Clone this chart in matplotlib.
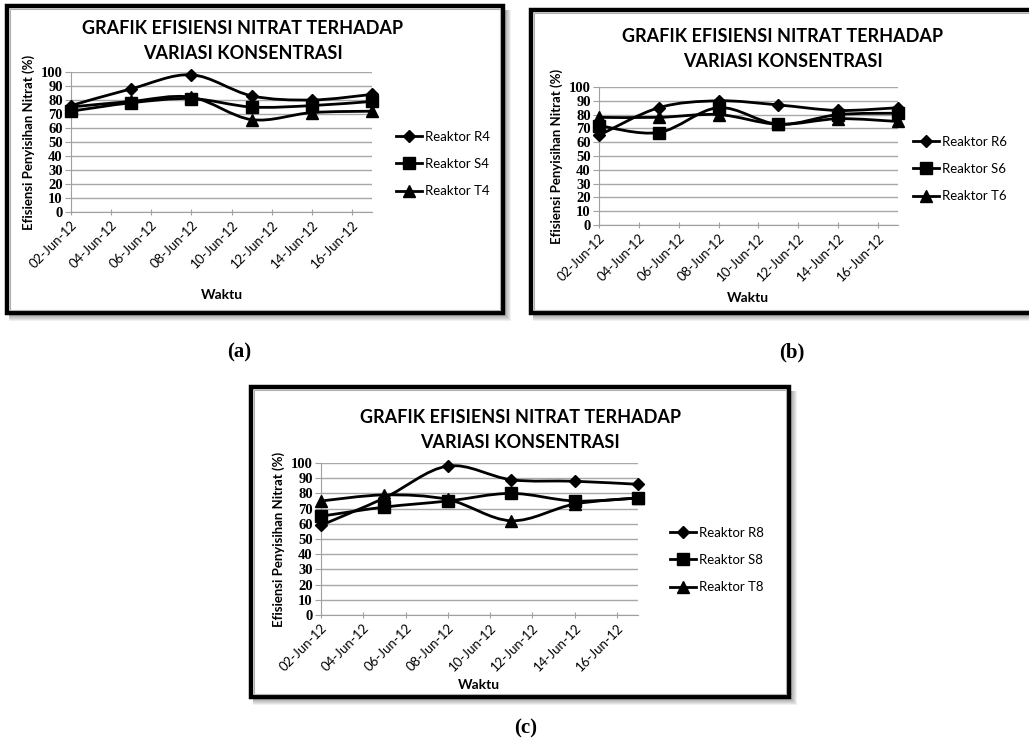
import numpy as np
import matplotlib
matplotlib.use("Agg")
import matplotlib.pyplot as plt
import matplotlib.dates as mdates
from matplotlib.patches import Rectangle, PathPatch
from matplotlib.path import Path
from matplotlib.lines import Line2D

# ---------------- data ----------------
dates = ['2012-06-02', '2012-06-05', '2012-06-08', '2012-06-11', '2012-06-14', '2012-06-17']
tick_dates = ['2012-06-02', '2012-06-04', '2012-06-06', '2012-06-08',
              '2012-06-10', '2012-06-12', '2012-06-14', '2012-06-16']

r4 = [76, 88, 98, 83, 80, 84]
s4 = [72, 78, 81, 75, 76, 79]
t4 = [75, 79, 82, 66, 71, 72]

r6 = [65, 85, 90, 87, 83, 85]
s6 = [72, 67, 85, 73, 80, 81]
t6 = [78, 78, 80, 73, 77, 75]

r8 = [59, 77, 98, 89, 88, 86]
s8 = [65, 71, 75, 80, 75, 77]
t8 = [75, 79, 76, 62, 73, 77]

title = "GRAFIK EFISIENSI NITRAT TERHADAP\nVARIASI KONSENTRASI"
ylabel = "Efisiensi Penyisihan Nitrat (%)"
xlabel = "Waktu"

W, H = 1029, 746
fig = plt.figure(figsize=(W / 100, H / 100), dpi=100)
fig.patch.set_facecolor("white")

SANS = ["Lato", "DejaVu Sans"]
SERIF = ["Liberation Serif", "DejaVu Serif"]

def fx(px):
    return px / W

def fy(py):
    return 1 - py / H

def box(x0, y0, x1, y1):
    # soft shadow
    for i in range(8, 0, -1):
        fig.add_artist(Rectangle((fx(x0 + 2), fy(y1 + i)), fx(x1 - x0 + i - 2), (y1 - y0 + i - 4) / H,
                                 transform=fig.transFigure, facecolor="black", alpha=0.06,
                                 edgecolor="none", zorder=0))
    fig.add_artist(Rectangle((fx(x0), fy(y1)), fx(x1 - x0), (y1 - y0) / H,
                             transform=fig.transFigure, facecolor="white",
                             edgecolor="black", linewidth=3.2, zorder=1))
    fig.add_artist(Rectangle((fx(x0 + 3), fy(y1 - 3)), fx(x1 - x0 - 6), (y1 - y0 - 6) / H,
                             transform=fig.transFigure, facecolor="none",
                             edgecolor="#b0b0b0", linewidth=0.8, zorder=1))

def smooth_path(xs, ys):
    xs = np.asarray(xs, float)
    ys = np.asarray(ys, float)
    verts = [(xs[0], ys[0])]
    codes = [Path.MOVETO]
    n = len(xs)
    for i in range(n - 1):
        p0 = np.array([xs[max(i - 1, 0)], ys[max(i - 1, 0)]])
        p1 = np.array([xs[i], ys[i]])
        p2 = np.array([xs[i + 1], ys[i + 1]])
        p3 = np.array([xs[min(i + 2, n - 1)], ys[min(i + 2, n - 1)]])
        c1 = p1 + (p2 - p0) / 6.0
        c2 = p2 - (p3 - p1) / 6.0
        verts += [tuple(c1), tuple(c2), tuple(p2)]
        codes += [Path.CURVE4] * 3
    return Path(verts, codes)

def panel(axrect, series, labels, title_xy, legend_xy, xlabel_xy):
    ax = fig.add_axes(axrect)
    ax.set_zorder(3)
    ax.patch.set_alpha(0)
    x = mdates.date2num(np.array(dates, dtype="datetime64[D]"))
    markers = ["D", "s", "^"]
    msizes = [6.5, 9, 8.5]
    handles = []
    for ys, m, ms, lab in zip(series, markers, msizes, labels):
        pp = PathPatch(smooth_path(x, ys), facecolor="none", edgecolor="black",
                       linewidth=2.0, transform=ax.transData, zorder=3)
        ax.add_patch(pp)
        ax.plot(x, ys, linestyle="none", marker=m, markersize=ms, color="black", zorder=4,
                clip_on=False)
        handles.append(Line2D([], [], color="black", linewidth=2.0, marker=m,
                              markersize=ms - 0.5, label=lab))
    ax.set_ylim(0, 100)
    ax.set_yticks(np.arange(0, 101, 10))
    ax.set_xlim(x[0], x[-1])
    ax.set_xticks(mdates.date2num(np.array(tick_dates, dtype="datetime64[D]")))
    ax.xaxis.set_major_formatter(mdates.DateFormatter("%d-%b-%y"))
    ax.grid(axis="y", color="#a8a8a8", linewidth=1.0)
    ax.set_axisbelow(True)
    for s in ["top", "right"]:
        ax.spines[s].set_visible(False)
    ax.spines["left"].set_color("#a0a0a0")
    ax.spines["bottom"].set_color("#a0a0a0")
    ax.tick_params(axis="y", length=4, color="#a0a0a0", pad=2, labelsize=10.5)
    ax.tick_params(axis="x", length=4, direction="inout", color="#a0a0a0", pad=3, labelsize=9.5)
    for t in ax.get_yticklabels():
        t.set_fontfamily(SERIF)
        t.set_fontweight("bold")
    for t in ax.get_xticklabels():
        t.set_fontfamily(SANS)
        t.set_rotation(45)
        t.set_ha("right")
        t.set_rotation_mode("anchor")
    ax.set_ylabel(ylabel, fontsize=9.5, fontweight="bold", family=SANS, labelpad=4)
    fig.text(fx(title_xy[0]), fy(title_xy[1]), title, ha="center", va="center",
             fontsize=13, fontweight="bold", family=SANS, linespacing=1.55, zorder=5)
    fig.text(fx(xlabel_xy[0]), fy(xlabel_xy[1]), xlabel, ha="center", va="center",
             fontsize=10, fontweight="bold", family=SANS, zorder=5)
    leg = fig.legend(handles=handles, loc="center left",
                     bbox_to_anchor=(fx(legend_xy[0]), fy(legend_xy[1])),
                     frameon=False, handlelength=2.0, handletextpad=0.2,
                     borderaxespad=0, borderpad=0,
                     labelspacing=1.15, prop={"family": SANS, "size": 9.5})
    leg.set_zorder(5)
    return ax

# panel boxes
box(7, 6, 503, 313)
box(531, 10, 1040, 313)
box(251, 387, 789, 697)

panel([fx(71), fy(212), fx(372) - fx(71), (212 - 72) / H],
      [r4, s4, t4], ["Reaktor R4", "Reaktor S4", "Reaktor T4"],
      (243, 41), (396, 164), (222, 295))
panel([fx(599), fy(225), fx(898) - fx(599), (225 - 87) / H],
      [r6, s6, t6], ["Reaktor R6", "Reaktor S6", "Reaktor T6"],
      (783, 49), (913, 169), (748, 298))
panel([fx(321), fy(615), fx(638) - fx(321), (615 - 463) / H],
      [r8, s8, t8], ["Reaktor R8", "Reaktor S8", "Reaktor T8"],
      (520, 430), (670, 560), (479, 685))

for lab, xy in [("(a)", (239, 352)), ("(b)", (792, 352)), ("(c)", (526, 728))]:
    fig.text(fx(xy[0]), fy(xy[1]), lab, ha="center", va="center", fontsize=15,
             fontweight="bold", family=SERIF)

fig.savefig("out.png", dpi=100, facecolor="white")
